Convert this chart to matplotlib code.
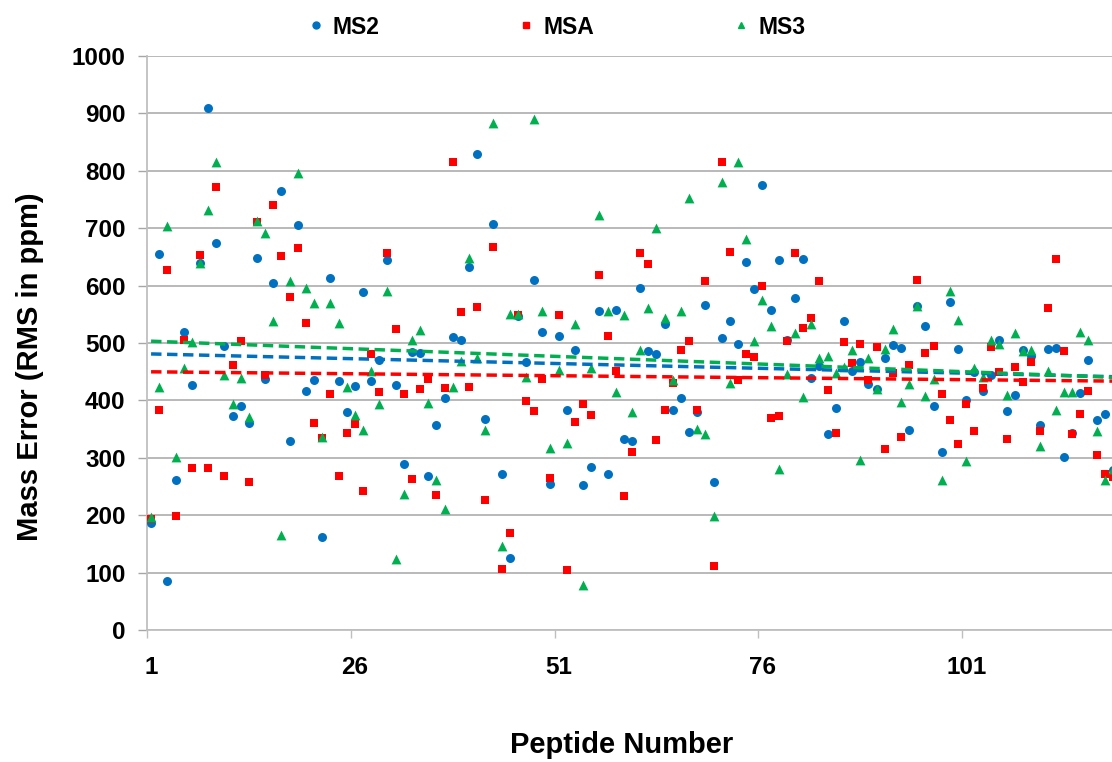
import numpy as np
import matplotlib
matplotlib.use("Agg")
import matplotlib.pyplot as plt
from matplotlib.lines import Line2D

plt.rcParams['font.family'] = ['Liberation Sans', 'DejaVu Sans']

BLUE = "#0070C0"
RED = "#FF0000"
GREEN = "#00B050"

# peptide 1..119
ms2 = [186, 655, 86, 261, 520, 427, 640, 910, 675, 495,
       373, 390, 361, 648, 438, 604, 764, 329, 705, 416,
       435, 162, 614, 433, 379, 425, 588, 434, 471, 644,
       427, 289, 484, 482, 269, 358, 404, 510, 505, 633,
       829, 368, 707, 272, 125, 547, 467, 609, 519, 254,
       512, 383, 488, 253, 284, 556, 271, 557, 333, 329,
       595, 486, 480, 533, 384, 405, 345, 379, 567, 258,
       509, 539, 499, 641, 594, 776, 557, 645, 505, 578,
       647, 439, 460, 341, 387, 539, 452, 467, 429, 420,
       473, 496, 491, 348, 565, 530, 390, 310, 572, 490,
       400, 449, 417, 444, 505, 382, 410, 488, 478, 358,
       490, 492, 301, 343, 413, 471, 366, 377, 279]

msa = [193, 384, 628, 199, 506, 282, 654, 282, 772, 269,
       461, 504, 258, 711, 445, 740, 651, 580, 665, 534,
       361, 335, 412, 269, 343, 359, 243, 480, 414, 657,
       525, 412, 263, 419, 437, 235, 422, 816, 554, 423,
       563, 226, 667, 107, 169, 549, 399, 381, 437, 265,
       548, 104, 363, 393, 375, 618, 512, 452, 234, 310,
       656, 637, 331, 384, 431, 488, 503, 384, 608, 112,
       816, 659, 435, 480, 476, 599, 369, 372, 504, 657,
       526, 544, 608, 418, 343, 501, 466, 498, 435, 493,
       315, 448, 337, 461, 610, 483, 495, 412, 366, 324,
       394, 346, 422, 493, 449, 332, 459, 432, 467, 346,
       561, 647, 486, 341, 377, 417, 305, 271, 266]

ms3 = [197, 423, 703, 301, 457, 501, 640, 732, 816, 444,
       394, 439, 371, 712, 692, 539, 165, 608, 797, 596,
       569, 337, 569, 534, 423, 375, 348, 452, 393, 590,
       123, 237, 505, 523, 395, 261, 210, 423, 468, 648,
       473, 349, 884, 146, 551, 551, 441, 891, 556, 317,
       453, 325, 533, 78, 456, 723, 556, 414, 549, 379,
       488, 561, 701, 544, 435, 556, 752, 351, 342, 198,
       780, 431, 816, 682, 503, 575, 530, 281, 446, 518,
       406, 533, 474, 477, 448, 459, 487, 297, 473, 420,
       490, 524, 397, 429, 565, 407, 438, 261, 590, 540,
       295, 456, 441, 505, 498, 410, 517, 486, 488, 320,
       452, 384, 414, 415, 520, 505, 346, 261, 281]

series = [("MS2", ms2, BLUE, "o", 42), ("MSA", msa, RED, "s", 36), ("MS3", ms3, GREEN, "^", 50)]
x_labels = ["1", "26", "51", "76", "101"]

W, H = 1112, 762
fig = plt.figure(figsize=(W / 100, H / 100), dpi=100)
ax = fig.add_axes([147 / W, 1 - 630 / H, (1117 - 147) / W, (630 - 56) / H])

peptide = np.arange(1, len(ms2) + 1)
for name, vals, col, mk, sz in series:
    ax.scatter(peptide, vals, s=sz, marker=mk, color=col, lw=0, zorder=3)

# linear trend lines
for name, vals, col, mk, sz in series:
    k, b = np.polyfit(peptide, vals, 1)
    ax.plot([1, peptide[-1]], [k * 1 + b, k * peptide[-1] + b], color=col, lw=2.5,
            linestyle=(0, (3.0, 1.6)), zorder=4)

ax.set_xlim(0.5, len(ms2) + 0.5)
ax.set_ylim(0, 1000)
ax.set_yticks(np.arange(0, 1001, 100))
ax.grid(axis="y", color="#A6A6A6", lw=1.1, zorder=0)
ax.set_axisbelow(True)
for s in ["top", "right"]:
    ax.spines[s].set_visible(False)
for s in ["left", "bottom"]:
    ax.spines[s].set_color("#BFBFBF")
    ax.spines[s].set_linewidth(1.3)

ax.tick_params(axis="y", direction="out", length=6.5, width=1, color="#A6A6A6", pad=9,
               labelsize=17.5)
for t in ax.get_yticklabels():
    t.set_fontweight("bold")

# tick marks sit between categories, labels on the category
ax.set_xticks([0.5, 25.5, 50.5, 75.5, 100.5])
ax.set_xticklabels([])
ax.tick_params(axis="x", which="major", direction="out", length=6, width=1, color="#BFBFBF")
ax.set_xticks([int(v) for v in x_labels], minor=True)
ax.set_xticklabels(x_labels, minor=True, fontsize=17.5, fontweight="bold")
ax.tick_params(axis="x", which="minor", length=0, pad=19)

fig.text(30 / W, 1 - 367 / H, "Mass Error (RMS in ppm)", rotation=90, ha="center", va="center",
         fontsize=21, fontweight="bold")
fig.text(622 / W, 1 - 745 / H, "Peptide Number", ha="center", va="center",
         fontsize=21, fontweight="bold")

handles = [Line2D([], [], ls="none", marker=mk, color=col, markersize=5) for _, _, col, mk, _ in series]
fig.legend(handles, [s[0] for s in series], loc="center", bbox_to_anchor=(557 / W, 1 - 27 / H),
           ncol=3, frameon=False, handlelength=0.6, handletextpad=0.45, columnspacing=6.1,
           prop={"weight": "bold", "size": 16.5})

fig.savefig("out.png", dpi=100)
